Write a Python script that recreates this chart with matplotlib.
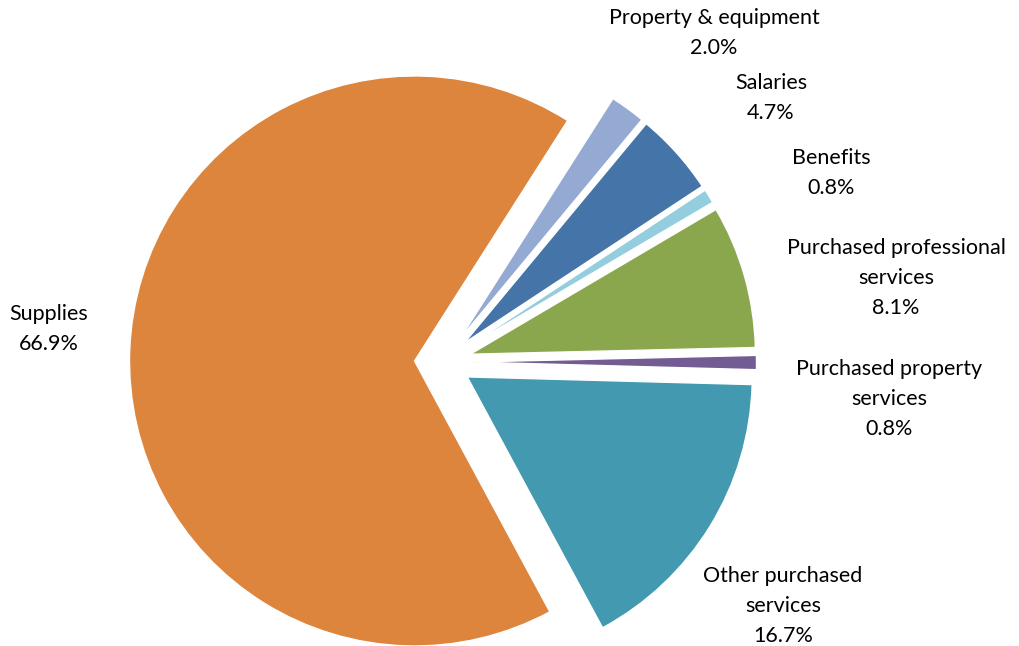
import matplotlib
matplotlib.use("Agg")
import matplotlib.pyplot as plt

categories = ["Property & equipment", "Salaries", "Benefits",
              "Purchased professional\nservices", "Purchased property\nservices",
              "Other purchased\nservices", "Supplies"]
shares = [2.0, 4.7, 0.8, 8.1, 0.8, 16.7, 66.9]
colors = ["#95AAD2", "#4574A8", "#93CDDE", "#8BA74E", "#735B93", "#4299B0", "#DD843D"]

# label anchor points (pixel space, y measured from the top)
label_pos = [(714, 33), (771, 98), (831, 173), (896, 278), (889, 399), (783, 606), (49, 329)]

W, H = 1020, 646
fig = plt.figure(figsize=(W / 100, H / 100), dpi=100)
ax = fig.add_axes([0, 0, 1, 1])

cx, cy, r = 443, H - 362, 285
# every wedge is pulled out by a tenth of the radius (explode is in data units)
ax.pie(shares, colors=colors, startangle=57.5, counterclock=False,
       explode=[0.1 * r] * len(shares), center=(cx, cy), radius=r,
       wedgeprops=dict(edgecolor="white", linewidth=1), frame=True)
ax.set_xlim(0, W)
ax.set_ylim(0, H)
ax.set_aspect("equal")
ax.axis("off")

for name, val, (lx, ly) in zip(categories, shares, label_pos):
    ax.text(lx, H - ly, f"{name}\n{val:.1f}%", ha="center", va="center",
            fontsize=15.5, family="Lato", linespacing=1.62, color="black")

fig.savefig("out.png", dpi=100)
